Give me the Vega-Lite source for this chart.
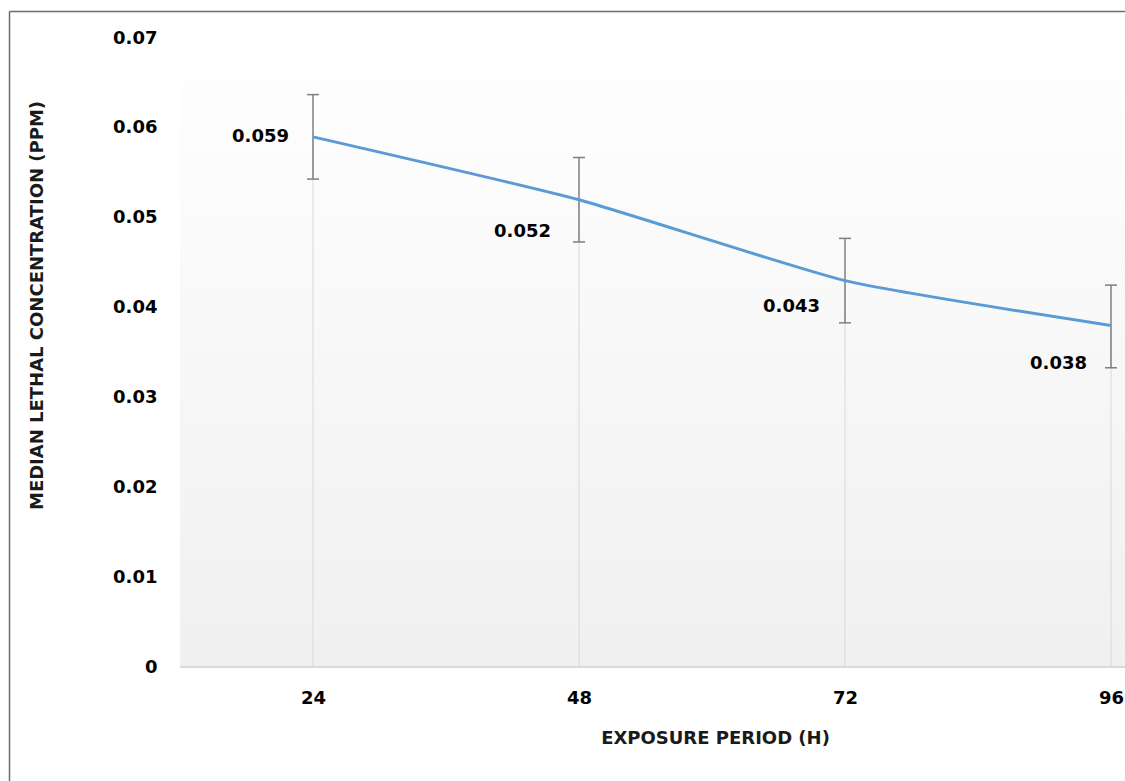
{
  "$schema": "https://vega.github.io/schema/vega-lite/v6.json",
  "width": 1116,
  "height": 770,
  "autosize": {"type": "none"},
  "padding": {"left": 9, "top": 11, "right": 0, "bottom": 0},
  "background": "#ffffff",
  "config": {
    "view": {"stroke": null},
    "font": "DejaVu Sans"
  },
  "resolve": {"axis": {"x": "independent", "y": "independent"}},
  "data": {
    "values": [
      {"hour": 24, "lc50": 0.059, "lower": 0.0543, "upper": 0.0637, "label": "0.059"},
      {"hour": 48, "lc50": 0.052, "lower": 0.0473, "upper": 0.0567, "label": "0.052"},
      {"hour": 72, "lc50": 0.043, "lower": 0.0383, "upper": 0.0477, "label": "0.043"},
      {"hour": 96, "lc50": 0.038, "lower": 0.0333, "upper": 0.0425, "label": "0.038"}
    ]
  },
  "layer": [
    {
      "mark": {"type": "rect", "fill": {"gradient": "linear", "x1": 0, "y1": 0, "x2": 0, "y2": 1, "stops": [{"offset": 0, "color": "#ffffff"}, {"offset": 1, "color": "#f0f0f0"}]}},
      "encoding": {
        "x": {"datum": 12, "type": "quantitative",
          "scale": {"domain": [-3.4286, 97.263], "nice": false, "zero": false},
          "axis": {"orient": "top", "offset": 0, "domain": true, "domainColor": "#6d6d6d", "domainWidth": 1.5, "labels": false, "ticks": false, "grid": false, "title": null}},
        "x2": {"datum": 97.263},
        "y": {"datum": 0, "type": "quantitative",
          "scale": {"domain": [-0.0126868, 0.0730048], "nice": false, "zero": false},
          "axis": {"orient": "left", "offset": 0, "domain": true, "domainColor": "#6d6d6d", "domainWidth": 1.5, "labels": false, "ticks": false, "grid": false, "title": null}},
        "y2": {"datum": 0.07}
      }
    },
    {
      "mark": {"type": "rule", "color": "#d9d9d9", "strokeWidth": 1.5},
      "encoding": {
        "x": {"datum": 12, "type": "quantitative", "axis": null},
        "x2": {"datum": 97.263},
        "y": {"datum": 0, "type": "quantitative", "axis": null}
      }
    },
    {
      "mark": {"type": "rule", "color": "#d9d9d9", "strokeWidth": 1},
      "encoding": {
        "x": {"field": "hour", "type": "quantitative", "axis": null},
        "y": {"field": "lc50", "type": "quantitative", "axis": null},
        "y2": {"datum": 0}
      }
    },
    {
      "mark": {"type": "rule", "color": "#7f7f7f", "strokeWidth": 1.5},
      "encoding": {
        "x": {"field": "hour", "type": "quantitative", "axis": null},
        "y": {"field": "lower", "type": "quantitative", "axis": null},
        "y2": {"field": "upper"}
      }
    },
    {
      "mark": {"type": "tick", "orient": "horizontal", "color": "#7f7f7f", "size": 12, "thickness": 1.5, "opacity": 1},
      "encoding": {
        "x": {"field": "hour", "type": "quantitative", "axis": null},
        "y": {"field": "lower", "type": "quantitative", "axis": null}
      }
    },
    {
      "mark": {"type": "tick", "orient": "horizontal", "color": "#7f7f7f", "size": 12, "thickness": 1.5, "opacity": 1},
      "encoding": {
        "x": {"field": "hour", "type": "quantitative", "axis": null},
        "y": {"field": "upper", "type": "quantitative", "axis": null}
      }
    },
    {
      "mark": {"type": "line", "color": "#5b9bd5", "strokeWidth": 3, "interpolate": "cardinal", "tension": 0.5},
      "encoding": {
        "x": {
          "field": "hour",
          "type": "quantitative",
          "axis": {
            "orient": "bottom",
            "offset": -114,
            "values": [24, 48, 72, 96],
            "format": "d",
            "grid": false,
            "domain": false,
            "ticks": false,
            "tickSize": 0,
            "labelFont": "DejaVu Sans",
            "labelFontSize": 18,
            "labelFontWeight": "bold",
            "labelColor": "#000000",
            "labelPadding": 22,
            "labelFlush": false,
            "title": "EXPOSURE PERIOD (H)",
            "titleFont": "DejaVu Sans",
            "titleFontSize": 18,
            "titleFontWeight": "bold",
            "titleColor": "#1a1a1a",
            "titleX": 706,
            "titleY": 71,
            "titleAlign": "center",
            "titleBaseline": "middle"
          }
        },
        "y": {
          "field": "lc50",
          "type": "quantitative",
          "axis": {
            "orient": "left",
            "offset": -171,
            "values": [0, 0.01, 0.02, 0.03, 0.04, 0.05, 0.06, 0.07],
            "format": ".2~f",
            "grid": false,
            "domain": false,
            "ticks": false,
            "tickSize": 0,
            "labelFont": "DejaVu Sans",
            "labelFontSize": 18,
            "labelFontWeight": "bold",
            "labelColor": "#000000",
            "labelPadding": 23,
            "labelFlush": false,
            "title": "MEDIAN LETHAL CONCENTRATION (PPM)",
            "titleFont": "DejaVu Sans",
            "titleFontSize": 18,
            "titleFontWeight": "bold",
            "titleColor": "#1a1a1a",
            "titleX": -143,
            "titleY": 294,
            "titleAngle": -90,
            "titleAlign": "center",
            "titleBaseline": "middle"
          }
        }
      }
    },
    {
      "transform": [{"filter": "datum.hour == 24"}],
      "mark": {"type": "text", "align": "right", "baseline": "middle", "dx": -24, "dy": 0, "fontSize": 18, "fontWeight": "bold", "color": "#000000"},
      "encoding": {
        "x": {"field": "hour", "type": "quantitative", "axis": null},
        "y": {"field": "lc50", "type": "quantitative", "axis": null},
        "text": {"field": "label"}
      }
    },
    {
      "transform": [{"filter": "datum.hour == 48"}],
      "mark": {"type": "text", "align": "right", "baseline": "middle", "dx": -28, "dy": 32, "fontSize": 18, "fontWeight": "bold", "color": "#000000"},
      "encoding": {
        "x": {"field": "hour", "type": "quantitative", "axis": null},
        "y": {"field": "lc50", "type": "quantitative", "axis": null},
        "text": {"field": "label"}
      }
    },
    {
      "transform": [{"filter": "datum.hour == 72"}],
      "mark": {"type": "text", "align": "right", "baseline": "middle", "dx": -25, "dy": 26, "fontSize": 18, "fontWeight": "bold", "color": "#000000"},
      "encoding": {
        "x": {"field": "hour", "type": "quantitative", "axis": null},
        "y": {"field": "lc50", "type": "quantitative", "axis": null},
        "text": {"field": "label"}
      }
    },
    {
      "transform": [{"filter": "datum.hour == 96"}],
      "mark": {"type": "text", "align": "right", "baseline": "middle", "dx": -24, "dy": 38, "fontSize": 18, "fontWeight": "bold", "color": "#000000"},
      "encoding": {
        "x": {"field": "hour", "type": "quantitative", "axis": null},
        "y": {"field": "lc50", "type": "quantitative", "axis": null},
        "text": {"field": "label"}
      }
    }
  ]
}
